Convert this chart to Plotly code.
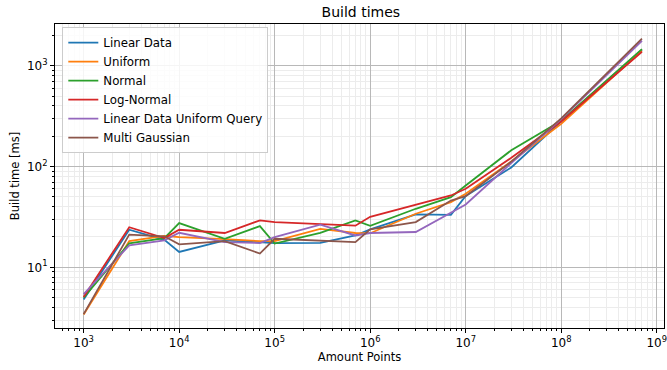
import numpy as np
import plotly.graph_objects as go

amount_points = [1e3, 3e3, 7e3, 1e4, 3e4, 7e4, 1e5, 3e5, 7e5, 1e6, 3e6, 7e6, 1e7, 3e7, 1e8, 7e8]

linear_data = [4.8, 23.6, 18.7, 14.2, 18.5, 17.8, 17.4, 17.5, 20.7, 23.8, 33.5, 33.2, 51, 98, 280, 1440]
uniform = [3.4, 18.2, 20.5, 19.9, 19.0, 18.2, 18.2, 24.1, 21.9, 21.8, 34.0, 44.4, 53.7, 112, 265, 1410]
normal = [5.0, 17.3, 19.5, 27.5, 19.2, 25.6, 17.2, 22.0, 29.2, 25.8, 38.1, 49.6, 64.9, 145, 285, 1462]
log_normal = [5.08, 25.0, 19.5, 23.6, 21.9, 29.2, 28.1, 27.0, 25.9, 31.7, 42.0, 51.6, 60.1, 122, 280, 1377]
linear_uniform_query = [5.41, 16.5, 18.5, 22.0, 17.8, 17.4, 19.9, 26.5, 20.7, 21.9, 22.4, 35.3, 42, 108, 295, 1770]
multi_gaussian = [3.43, 21.1, 20.3, 16.9, 18.2, 13.7, 19.2, 18.5, 17.8, 23.8, 28.1, 46, 50.8, 112, 300, 1862]

series_names = ["Linear Data", "Uniform", "Normal", "Log-Normal",
                "Linear Data Uniform Query", "Multi Gaussian"]
series_values = [linear_data, uniform, normal, log_normal, linear_uniform_query, multi_gaussian]
colors = ["#1f77b4", "#ff7f0e", "#2ca02c", "#d62728", "#9467bd", "#8c564b"]

x_tick_exps = [3, 4, 5, 6, 7, 8, 9]
y_tick_exps = [1, 2, 3]

fig = go.Figure()
for name, vals, c in zip(series_names, series_values, colors):
    fig.add_trace(go.Scatter(x=amount_points, y=vals, mode="lines", name=name,
                             line=dict(color=c, width=1.8)))

def minor_vals(lo, hi):
    out = []
    for e in range(lo, hi + 1):
        for m in range(2, 10):
            out.append(m * 10 ** e)
    return out

font = "DejaVu Sans"
fig.update_layout(
    width=667, height=370,
    margin=dict(l=55, r=3, t=24, b=42, autoexpand=False),
    paper_bgcolor="white", plot_bgcolor="white",
    font=dict(family=font, size=11, color="black"),
    title=dict(text="Build times", x=0.541, xanchor="center", y=0.967, yanchor="middle",
               font=dict(size=14, family=font)),
    legend=dict(x=0.012, y=0.99, xanchor="left", yanchor="top",
                bgcolor="rgba(255,255,255,0.85)", bordercolor="#cccccc", borderwidth=1,
                font=dict(size=11.8, family=font), tracegroupgap=0, itemwidth=30),
    showlegend=True,
)
fig.update_xaxes(
    type="log", range=[2.70, 9.076], automargin=False,
    tickmode="array", tickvals=[10 ** e for e in x_tick_exps],
    ticktext=[f"10<sup>{e}</sup>" for e in x_tick_exps],
    tickfont=dict(size=12, family=font), ticklabeloverflow="allow",
    ticks="outside", ticklen=4, tickcolor="black",
    showgrid=True, gridcolor="#b8b8b8", gridwidth=1,
    showline=True, linecolor="black", linewidth=1, mirror=True,
    zeroline=False,
    minor=dict(tickmode="array", tickvals=minor_vals(2, 8), ticks="outside", ticklen=2,
               tickcolor="black", showgrid=True, gridcolor="#ececec", gridwidth=1),
    title=dict(text="Amount Points", font=dict(size=11.5, family=font), standoff=2),
)
fig.update_yaxes(
    type="log", range=[0.398, 3.414], automargin=False,
    tickmode="array", tickvals=[10 ** e for e in y_tick_exps],
    ticktext=[f"10<sup>{e}</sup>" for e in y_tick_exps],
    tickfont=dict(size=12, family=font),
    ticks="outside", ticklen=4, tickcolor="black",
    showgrid=True, gridcolor="#b8b8b8", gridwidth=1,
    showline=True, linecolor="black", linewidth=1, mirror=True,
    zeroline=False,
    minor=dict(tickmode="array", tickvals=minor_vals(0, 3), ticks="outside", ticklen=2,
               tickcolor="black", showgrid=True, gridcolor="#ececec", gridwidth=1),
    title=dict(text="Build time [ms]", font=dict(size=11.5, family=font), standoff=4),
)

fig.write_html("out.html", config={"displayModeBar": False},
               post_script="document.body.style.margin='0px';")
